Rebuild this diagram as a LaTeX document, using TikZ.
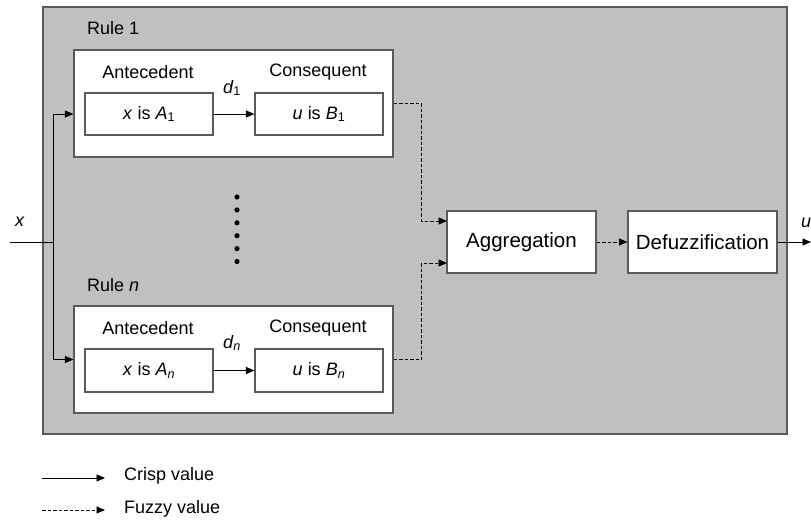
\documentclass[tikz,border=0pt]{standalone}
\usepackage{fontspec}
\setmainfont{Liberation Sans}
\usetikzlibrary{arrows.meta}
\definecolor{panel}{HTML}{C0C0C0}
\definecolor{edge}{HTML}{5A5A5A}
\begin{document}
\begin{tikzpicture}[x=1pt,y=-1pt,
  box/.style={draw=edge, fill=white, line width=1.1pt, inner sep=0pt},
  arr/.style={-{Triangle[length=8.5pt,width=7pt]}, line width=0.9pt, black},
  fuzzy/.style={arr, dash pattern=on 3.5pt off 2pt},
  txt/.style={font=\fontsize{18}{21}\selectfont, inner sep=0pt},
  big/.style={font=\fontsize{20.5}{24}\selectfont, inner sep=0pt},
  dotc/.style={fill=black, draw=none}]
\useasboundingbox (0,0) rectangle (811,523);
% main panel
\node[draw=edge, fill=panel, line width=1.3pt, minimum width=744pt, minimum height=427pt, inner sep=0pt] (main) at (415,220.5) {};
% rule boxes
\node[box, minimum width=319pt, minimum height=107pt] (rule1) at (233.5,103.5) {};
\node[box, minimum width=319pt, minimum height=107pt] (ruleN) at (233.5,359.5) {};
\node[box, minimum width=128pt, minimum height=42pt, txt] (a1) at (149,114) {\textit{x} is \textit{A}\textsubscript{1}};
\node[box, minimum width=128pt, minimum height=42pt, txt] (b1) at (319,114) {\textit{u} is \textit{B}\textsubscript{1}};
\node[box, minimum width=128pt, minimum height=43pt, txt] (an) at (149,370.5) {\textit{x} is \textit{A}\textsubscript{\textit{n}}};
\node[box, minimum width=128pt, minimum height=43pt, txt] (bn) at (319,370.5) {\textit{u} is \textit{B}\textsubscript{\textit{n}}};
\node[box, minimum width=149pt, minimum height=62pt, big] (agg) at (521.5,242) {Aggregation};
\node[box, minimum width=149pt, minimum height=62pt, big] (def) at (702.5,242) {Defuzzification};
% labels
\node[txt, anchor=west] (r1lab) at (87,28) {Rule 1};
\node[txt, anchor=west] (rnlab) at (87,285) {Rule \textit{n}};
\node[txt] (ant1) at (148,72) {Antecedent};
\node[txt] (con1) at (318,72) {Consequent};
\node[txt] (antn) at (148,328) {Antecedent};
\node[txt] (conn) at (318,328) {Consequent};
\node[txt] (d1) at (232,88) {\textit{d}\textsubscript{1}};
\node[txt] (dn) at (232,343) {\textit{d}\textsubscript{\textit{n}}};
\node[txt] (xlab) at (20,222) {\textit{x}};
\node[txt] (ulab) at (806,223) {\textit{u}};
% dots
\foreach \k in {0,...,5} {\fill[dotc] (237,{197+12.9*\k}) circle (2.6pt);}
% input
\coordinate (xin) at (10,242);
\coordinate (br) at (53,242);
\draw[line width=0.9pt] (xin) -- (br);
\draw[arr] (br) |- (rule1.west |- a1);
\draw[arr] (br) |- (ruleN.west);
% inner arrows
\draw[arr] (a1) -- (b1);
\draw[arr] (an) -- (bn);
% fuzzy paths
\coordinate (ag1) at (447,221);
\coordinate (ag2) at (447,263);
\draw[fuzzy] (rule1.east) -- ++(28,0) |- (ag1);
\draw[fuzzy] (ruleN.east) -- ++(28,0) |- (ag2);
\draw[fuzzy] (agg) -- (def);
\coordinate (uout) at (811,242);
\draw[arr] (def) -- (uout);
% legend
\coordinate (c1) at (42,478);
\coordinate (c2) at (105,478);
\coordinate (f1) at (42,510);
\coordinate (f2) at (105,510);
\draw[arr] (c1) -- (c2);
\draw[fuzzy] (f1) -- (f2);
\node[txt, anchor=west] (crisp) at (124,476) {Crisp value};
\node[txt, anchor=west] (fz) at (124,509) {Fuzzy value};
\end{tikzpicture}
\end{document}
